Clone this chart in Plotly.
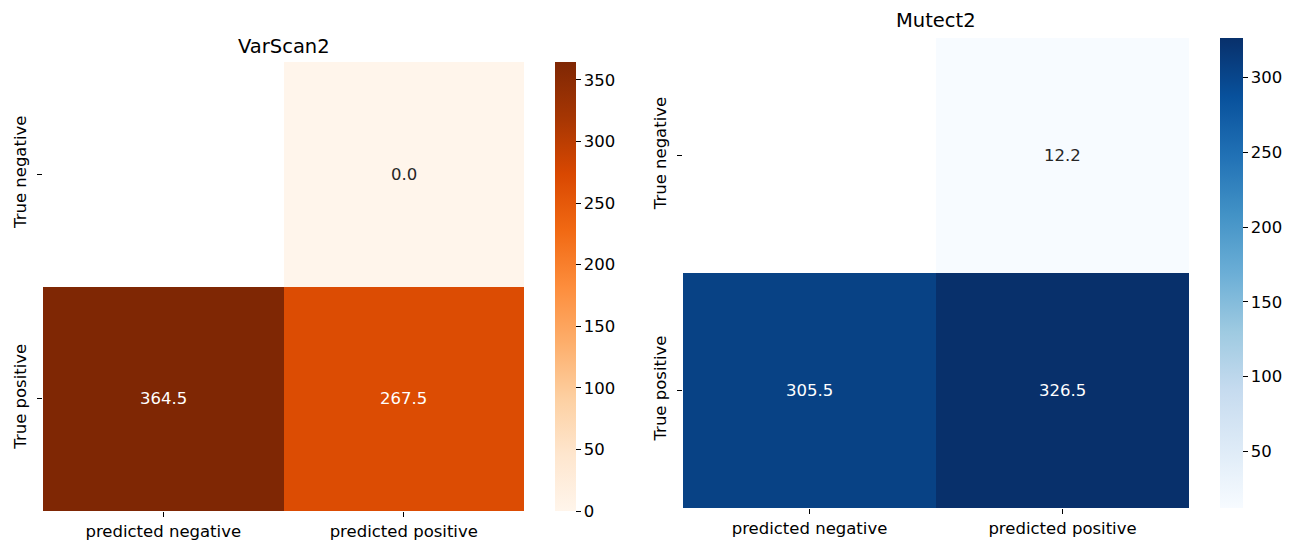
import plotly.graph_objects as go
import plotly.colors as pc

x_labels = ["predicted negative", "predicted positive"]
y_labels = ["True negative", "True positive"]
varscan_vals = [[None, 0.0], [364.5, 267.5]]
mutect_vals = [[None, 12.2], [305.5, 326.5]]
titles = ["VarScan2", "Mutect2"]

OFF = 8  # default body margin of the page
W, H = 1301, 541
FONT = "DejaVu Sans"
TS = 16.5  # tick / annotation font size
TTS = 19.5  # title font size


def fx(px):
    return (px - OFF) / W


def fy(py):
    return (H - (py - OFF)) / H


def cs(name):
    seq = getattr(pc.sequential, name)
    n = len(seq)
    return [[i / (n - 1), c] for i, c in enumerate(seq)]


panels = [
    dict(vals=varscan_vals, title=titles[0], scale="Oranges", x0=43, x1=524, y0=62, y1=511,
         cbx=555, cbw=21, zmin=0.0, zmax=364.5, ticks=[0, 50, 100, 150, 200, 250, 300, 350],
         ty=46),
    dict(vals=mutect_vals, title=titles[1], scale="Blues", x0=683, x1=1189, y0=38, y1=508,
         cbx=1220, cbw=23, zmin=12.2, zmax=326.5, ticks=[50, 100, 150, 200, 250, 300],
         ty=21),
]

fig = go.Figure()
annotations = []
for i, p in enumerate(panels):
    xa = "x" if i == 0 else "x2"
    ya = "y" if i == 0 else "y2"
    scale = cs(p["scale"])
    fig.add_trace(go.Heatmap(
        z=p["vals"], x=x_labels, y=y_labels, xaxis=xa, yaxis=ya,
        colorscale=scale, zmin=p["zmin"], zmax=p["zmax"], hoverongaps=False,
        colorbar=dict(
            x=fx(p["cbx"]), xanchor="left", xref="paper", xpad=0, ypad=0,
            y=fy(p["y1"]), yanchor="bottom", len=p["y1"] - p["y0"], lenmode="pixels",
            thickness=p["cbw"], thicknessmode="pixels", outlinewidth=0,
            ticks="outside", ticklen=5, tickwidth=1, tickcolor="black",
            tickvals=p["ticks"], tickfont=dict(family=FONT, size=TS, color="black"),
        ),
    ))
    for r, yl in enumerate(y_labels):
        for c, xl in enumerate(x_labels):
            v = p["vals"][r][c]
            if v is None:
                continue
            frac = (v - p["zmin"]) / (p["zmax"] - p["zmin"])
            rgb = pc.sample_colorscale(scale, [frac])[0]
            nums = [float(t) / 255 for t in rgb[rgb.index("(") + 1:-1].split(",")]
            lin = [n / 12.92 if n <= 0.03928 else ((n + 0.055) / 1.055) ** 2.4 for n in nums]
            lum = 0.2126 * lin[0] + 0.7152 * lin[1] + 0.0722 * lin[2]
            tcol = "#262626" if lum > 0.408 else "white"
            annotations.append(dict(
                x=xl, y=yl, xref=xa, yref=ya, text=f"{v:.1f}", showarrow=False,
                font=dict(family=FONT, size=TS, color=tcol)))
    annotations.append(dict(
        x=(fx(p["x0"]) + fx(p["x1"])) / 2, y=fy(p["ty"]), xref="paper", yref="paper",
        text=p["title"], showarrow=False, xanchor="center", yanchor="middle",
        font=dict(family=FONT, size=TTS, color="black")))

axis_common = dict(showgrid=False, zeroline=False, showline=False, ticks="outside",
                   ticklen=5, tickwidth=1, tickcolor="black", automargin=False,
                   tickfont=dict(family=FONT, size=TS, color="black"))

fig.update_layout(
    width=W, height=H, margin=dict(l=0, r=0, t=0, b=0),
    paper_bgcolor="white", plot_bgcolor="white",
    font=dict(family=FONT, size=TS, color="black"),
    xaxis=dict(domain=[fx(43), fx(524)], anchor="y", **axis_common),
    yaxis=dict(domain=[fy(511), fy(62)], anchor="x", autorange="reversed", tickangle=-90,
               ticklabelstandoff=4, **axis_common),
    xaxis2=dict(domain=[fx(683), fx(1189)], anchor="y2", **axis_common),
    yaxis2=dict(domain=[fy(508), fy(38)], anchor="x2", autorange="reversed", tickangle=-90,
                ticklabelstandoff=4, **axis_common),
    annotations=annotations,
)

fig.write_html("out.html")
